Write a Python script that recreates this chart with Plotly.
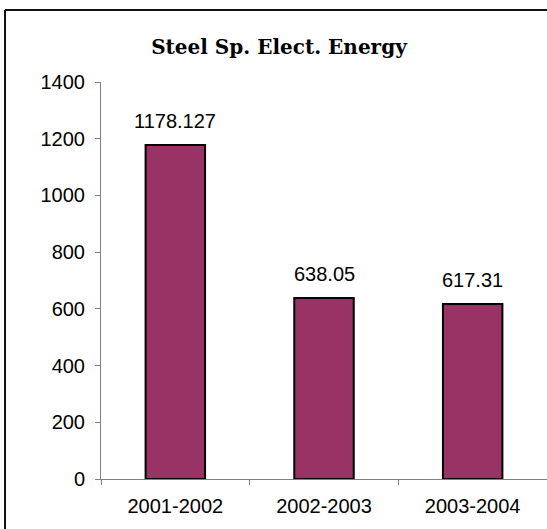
import plotly.graph_objects as go

# Specific electrical energy for steel, by financial year
years = ["2001-2002", "2002-2003", "2003-2004"]
energy = [1178.127, 638.05, 617.31]
energy_labels = ["1178.127", "638.05", "617.31"]
y_ticks = [0, 200, 400, 600, 800, 1000, 1200, 1400]

fig = go.Figure()
fig.add_trace(go.Bar(
    x=years,
    y=energy,
    width=0.4,
    marker=dict(color="#993366", line=dict(color="#000000", width=2)),
    hoverinfo="x+y",
))

for yr, val, lab in zip(years, energy, energy_labels):
    fig.add_annotation(
        x=yr, y=val, text=lab, showarrow=False,
        yanchor="bottom", yshift=11,
        font=dict(family="Liberation Sans, Arial, sans-serif", size=20, color="#000000"),
    )

# outer chart frame: only its top and left edges fall inside the page
frame = dict(color="#111111", width=2)
fig.add_shape(type="line", xref="paper", yref="paper",
              x0=-0.2152, x1=1.2, y0=1.1814, y1=1.1814, line=frame)
fig.add_shape(type="line", xref="paper", yref="paper",
              x0=-0.2152, x1=-0.2152, y0=1.1814, y1=-0.3, line=frame)

fig.update_layout(
    width=547, height=529,
    margin=dict(l=101, r=0, t=82, b=50),
    paper_bgcolor="white", plot_bgcolor="white",
    showlegend=False,
    title=dict(
        text="<b>Steel Sp. Elect. Energy</b>",
        x=0.510, xref="container", y=1 - 47 / 529, yref="container",
        xanchor="center", yanchor="middle",
        font=dict(family="DejaVu Serif, serif", size=20, color="#000000"),
    ),
    font=dict(family="Liberation Sans, Arial, sans-serif", size=20, color="#000000"),
)

fig.update_xaxes(
    type="category", range=[-0.5, 2.5],
    showline=True, linecolor="#808080", linewidth=1,
    ticks="outside", tickson="boundaries", ticklen=5, tickcolor="#808080",
    ticklabelstandoff=9,
    showgrid=False, zeroline=False,
)
fig.update_yaxes(
    range=[0, 1400], tickvals=y_ticks,
    showline=True, linecolor="#808080", linewidth=1,
    ticks="outside", ticklen=5, tickcolor="#808080",
    ticklabelstandoff=6,
    showgrid=False, zeroline=False,
)

fig.write_html("out.html")
